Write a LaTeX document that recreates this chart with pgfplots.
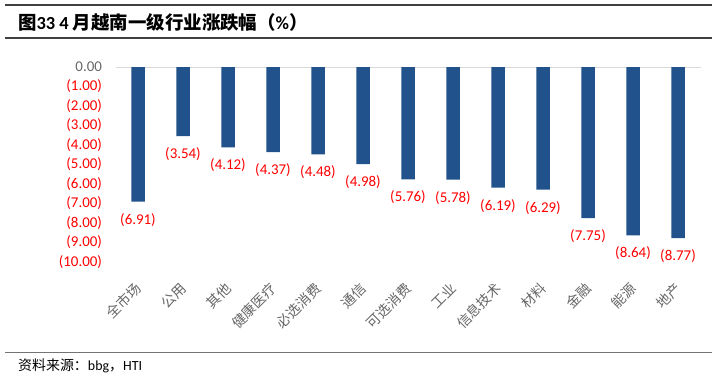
\documentclass[border=0pt]{standalone}
\usepackage{pgfplots}
\pgfplotsset{compat=1.18}
\usepackage{fontspec}
\setmainfont{Carlito}
\newfontfamily\cjk{Noto Sans CJK SC}
\definecolor{barblue}{RGB}{34,82,140}
\pgfplotstableread{
x y label
0 -6.91 (6.91)
1 -3.54 (3.54)
2 -4.12 (4.12)
3 -4.37 (4.37)
4 -4.48 (4.48)
5 -4.98 (4.98)
6 -5.76 (5.76)
7 -5.78 (5.78)
8 -6.19 (6.19)
9 -6.29 (6.29)
10 -7.75 (7.75)
11 -8.64 (8.64)
12 -8.77 (8.77)
}\datatable
\begin{document}
\begin{tikzpicture}
\useasboundingbox (0bp,0bp) rectangle (719bp,-380bp);
\draw[line width=1.3bp, black!75] (5bp,-5bp) -- (712bp,-5bp);
\node[anchor=west, inner sep=0, font=\fontsize{18.5}{20}\selectfont\bfseries] at (18bp,-22bp) {\cjk 图\rmfamily 33 4 \cjk 月越南一级行业涨跌幅（\rmfamily\%\cjk ）};
\draw[line width=1.3bp, black!75] (5bp,-38bp) -- (712bp,-38bp);
\begin{axis}[
  scale only axis, width=585bp, height=195bp,
  at={(115.5bp,-262bp)}, anchor=south west,
  xmin=-0.5, xmax=12.5, ymin=-10, ymax=0,
  enlargelimits=false, clip=false,
  ybar, bar width=13.5bp,
  axis line style={draw=none}, major tick length=0pt,
  xtick={0,...,12},
  xticklabels={全市场,公用,其他,健康医疗,必选消费,通信,可选消费,工业,信息技术,材料,金融,能源,地产},
  x tick label style={rotate=45, anchor=east, font=\cjk\fontsize{14}{16}\selectfont, text=black!60, xshift=-13bp, yshift=-17.5bp},
  ytick={-10,-9,...,0},
  yticklabels={(10.00),(9.00),(8.00),(7.00),(6.00),(5.00),(4.00),(3.00),(2.00),(1.00),{\textcolor{black!60}{0.00}}},
  y tick label style={font=\fontsize{15}{17}\selectfont, text=red, xshift=-10bp},
  /pgf/number format/assume math mode=true,
  nodes near coords, point meta=explicit symbolic,
  every node near coord/.append style={text=red, font=\fontsize{15}{17}\selectfont, anchor=north, yshift=-8bp},
]
\draw[black!15, line width=1bp] (axis cs:-0.5,0) -- (axis cs:12.5,0);
\addplot[fill=barblue, draw=none] table[x=x, y=y, meta=label] {\datatable};
\end{axis}
\draw[black!55, line width=0.8bp] (5bp,-352bp) -- (712bp,-352bp);
\node[anchor=west, inner sep=0, font=\fontsize{14}{16}\selectfont] at (18bp,-366bp) {\cjk 资料来源：\rmfamily bbg\cjk ，\rmfamily HTI};
\end{tikzpicture}
\end{document}
